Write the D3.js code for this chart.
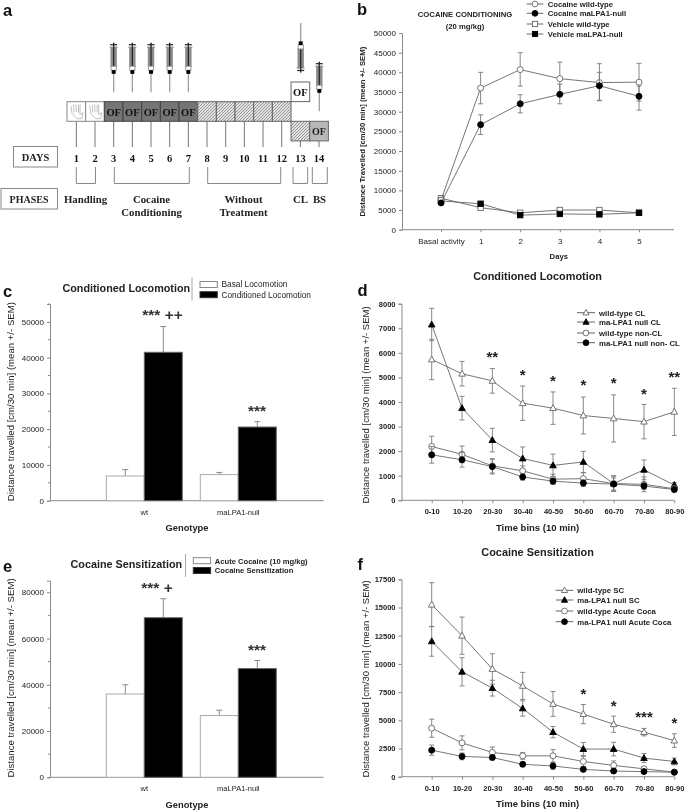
<!DOCTYPE html>
<html><head><meta charset="utf-8">
<script src="https://cdn.jsdelivr.net/npm/d3@7/dist/d3.min.js"></script>
<style>
html,body{margin:0;padding:0;background:#fff;}
svg{display:block;filter:blur(0.35px);}
text{font-family:"Liberation Sans",Arial,sans-serif;fill:#222;}
.serif{font-family:"Liberation Serif","Times New Roman",serif;font-weight:bold;}
</style></head><body>
<svg id="c" width="685" height="810" viewBox="0 0 685 810"></svg>
<script>
// ---------- data ----------
const dayLabels = ["1","2","3","4","5","6","7","8","9","10","11","12","13","14"];
const phaseLabels = [
  {lines:["Handling"], from:1, to:2},
  {lines:["Cocaine","Conditioning"], from:3, to:7},
  {lines:["Without","Treatment"], from:8, to:12},
  {lines:["CL"], from:13, to:13},
  {lines:["BS"], from:14, to:14}
];
const injectionDays = [3,4,5,6,7];

const bCats = ["Basal activity","1","2","3","4","5"];
const bTicks = d3.range(0,50001,5000);
const bCocWt   = [7500,36000,40700,38400,37400,37500];
const bCocWtHi = [7900,40000,45000,42600,42200,42300];
const bCocWtLo = [7100,32000,36500,34300,32800,32700];
const bCocNull   = [6800,26700,32000,34400,36600,33900];
const bCocNullHi = [7200,29200,34300,37000,40000,36500];
const bCocNullLo = [6400,24200,29700,32000,32900,30400];
const bVehWt   = [8000,5600,4300,5000,5000,4300];
const bVehNull = [7300,6600,3700,4000,3900,4300];

const barCats = ["wt","maLPA1-null"];
const cBasal = [6900,7300];
const cBasalErr = [1800,600];
const cCond = [41500,20600];
const cCondErr = [7200,1500];
const cTicks = [0,10000,20000,30000,40000,50000];

const eAcute = [36000,26700];
const eAcuteErr = [4000,2300];
const eSens = [69000,47000];
const eSensErr = [8200,3500];
const eTicks = [0,20000,40000,60000,80000];

const bins = ["0-10","10-20","20-30","30-40","40-50","50-60","60-70","70-80","80-90"];
const dWtCL = [5730,5150,4860,3950,3750,3450,3330,3200,3600];
const dWtCLErr = [820,500,500,700,660,750,960,700,960];
const dNullCL = [7150,3750,2450,1700,1420,1560,680,1240,620];
const dNullCLErr = [660,480,480,470,460,430,320,400,100];
const dWtNon = [2190,1870,1400,1200,860,880,680,650,470];
const dWtNonErr = [420,340,290,200,200,240,300,300,100];
const dNullNon = [1850,1650,1370,950,780,700,660,580,440];
const dNullNonErr = [340,300,300,130,130,140,250,140,100];
const dStars = ["","","**","*","*","*","*","*","**"];
const dStarVals = [0,0,5940,5210,4965,4800,4885,4460,5130];
const dTicks = d3.range(0,8001,1000);

const fWtSC = [15250,12500,9550,8050,6450,5550,4650,3950,3200];
const fWtSCErr = [1950,1650,1350,1200,1100,850,720,330,600];
const fNullSC = [12000,9300,7850,6050,3950,2450,2450,1650,1350];
const fNullSCErr = [1320,1250,700,680,500,580,600,400,300];
const fWtAc = [4300,3000,2150,1850,1850,1350,1000,700,400];
const fWtAcErr = [800,620,480,300,550,450,400,150,100];
const fNullAc = [2350,1800,1700,1100,950,650,500,450,400];
const fNullAcErr = [450,300,200,200,300,200,200,150,100];
const fStars = ["","","","","","*","*","***","*"];
const fStarVals = [0,0,0,0,0,7620,6560,5530,5000];
const fTicks = d3.range(0,17501,2500);

// ---------- helpers ----------
const svg = d3.select("#c");
const defs = svg.append("defs");
const hatch = defs.append("pattern").attr("id","hatch").attr("width",3).attr("height",3)
  .attr("patternUnits","userSpaceOnUse");
hatch.append("rect").attr("width",3).attr("height",3).attr("fill","#e2e2e2");
hatch.append("path").attr("d","M0,3L3,0M-1,1L1,-1M2,4L4,2").attr("stroke","#8f8f8f").attr("stroke-width",0.9);

const AX = "#8a8a8a", LINE="#7a7a7a";
function txt(g,x,y,s,size,opt={}){
  return g.append("text").attr("x",x).attr("y",y).text(s).attr("font-size",size)
    .attr("font-weight",opt.w||"normal").attr("text-anchor",opt.a||"start")
    .attr("class",opt.c||null).attr("transform",opt.r?`rotate(${opt.r} ${x} ${y})`:null)
    .style("fill",opt.f||null).style("letter-spacing",opt.ls||null);
}
function panelLetter(s,x,y){ txt(svg,x,y,s,16.5,{w:"bold",f:"#111"}); }

function marker(g,type,x,y,r){
  const fill = type.endsWith("F") ? "#000" : "#fff";
  const stroke = type.endsWith("F") ? "#000" : "#666";
  const k = type[0];
  if(k==="c") g.append("circle").attr("cx",x).attr("cy",y).attr("r",r).attr("fill",fill).attr("stroke",stroke).attr("stroke-width",0.9);
  if(k==="s") g.append("rect").attr("x",x-r).attr("y",y-r).attr("width",2*r).attr("height",2*r).attr("fill",fill).attr("stroke",stroke).attr("stroke-width",0.9);
  if(k==="t") g.append("path").attr("d",`M${x},${y-r*1.15}L${x+r*1.1},${y+r*0.8}L${x-r*1.1},${y+r*0.8}Z`).attr("fill",fill).attr("stroke",stroke).attr("stroke-width",0.9);
}

function yAxis(g,y,x0,ticks,size,weight,minorTicks){
  const ax = d3.axisLeft(y).tickValues(ticks).tickSize(3).tickPadding(3).tickFormat(d3.format("d"));
  const a = g.append("g").attr("transform",`translate(${x0},0)`).call(ax);
  a.selectAll("path,line").attr("stroke",AX);
  a.selectAll("text").attr("font-size",size).attr("font-weight",weight||"normal")
    .attr("font-family","Liberation Sans");
  if(minorTicks){
    g.selectAll(null).data(minorTicks).enter().append("line")
      .attr("x1",x0-2).attr("x2",x0).attr("y1",d=>y(d)).attr("y2",d=>y(d)).attr("stroke",AX);
  }
}

function lineSeries(g,x,y,vals,type,r,cats,hi,lo){
  const pts = vals.map((v,i)=>({c:cats[i],v,hi:hi?hi[i]:null,lo:lo?lo[i]:null}));
  pts.forEach(p=>{
    if(p.hi==null) return;
    const X=x(p.c);
    g.append("path").attr("d",`M${X-2.5},${y(p.hi)}H${X+2.5}M${X},${y(p.hi)}V${y(p.lo)}M${X-2.5},${y(p.lo)}H${X+2.5}`)
      .attr("fill","none").attr("stroke",LINE).attr("stroke-width",0.9);
  });
  g.append("path").datum(pts).attr("fill","none").attr("stroke","#666").attr("stroke-width",0.9)
    .attr("d",d3.line().x(d=>x(d.c)).y(d=>y(d.v)));
  pts.forEach(p=>marker(g,type,x(p.c),y(p.v),r));
}
function errs(vals,err,sign){ return vals.map((v,i)=>v+sign*err[i]); }

function legendLines(g,x0,x1,items,ys,size,gap){
  items.forEach((it,i)=>{
    g.append("line").attr("x1",x0).attr("x2",x1).attr("y1",ys[i]).attr("y2",ys[i]).attr("stroke","#666");
    marker(g,it.t,(x0+x1)/2,ys[i],it.r);
    txt(g,x1+gap,ys[i]+3,it.s,size,{w:"bold"});
  });
}

// ---------- panel a ----------
(function(){
  const g = svg.append("g");
  const n0=67, w=18.67, top=101.7, h=19.6;
  const cx = d=>n0+(d-0.5)*w;
  panelLetter("a",3,16);
  dayLabels.forEach((d,i)=>{
    const D=i+1, y1 = D>=13 ? top+2*h-0.2 : top+h;
    g.append("line").attr("x1",cx(D)).attr("x2",cx(D)).attr("y1",y1).attr("y2",147).attr("stroke","#777").attr("stroke-width",1);
    txt(g,cx(D),161.5,d,10.5,{a:"middle",c:"serif",f:"#111"});
  });
  dayLabels.slice(0,12).forEach((d,i)=>{
    const D=i+1,x=n0+i*w;
    const fill = D<=2?"#fff":D<=7?"#757575":"url(#hatch)";
    g.append("rect").attr("x",x).attr("y",top).attr("width",w).attr("height",h).attr("fill",fill).attr("stroke",D<=2?"#888":D<=7?"#444":"#666").attr("stroke-width",1);
    if(D<=2){
      g.append("path").attr("d",`M${x+4},${top+4}l1,8 l5,5 h5 l1,-6 l-3,2 l0,-10 M${x+6.5},${top+3}l.5,8 M${x+9},${top+2.5}l.3,8 M${x+11.5},${top+3}l0,8`)
        .attr("fill","none").attr("stroke","#bbb").attr("stroke-width",0.9);
    }
    if(D>=3&&D<=7) txt(g,x+w/2,top+14,"OF",10.5,{a:"middle",c:"serif",f:"#111"});
  });
  g.append("rect").attr("x",n0+12*w).attr("y",top+h).attr("width",w).attr("height",h).attr("fill","url(#hatch)").attr("stroke","#666");
  g.append("rect").attr("x",n0+13*w).attr("y",top+h).attr("width",w).attr("height",h).attr("fill","#b8b8b8").attr("stroke","#666");
  txt(g,n0+13.5*w,top+h+14,"OF",10,{a:"middle",c:"serif",f:"#222"});
  g.append("rect").attr("x",n0+12*w).attr("y",82).attr("width",w).attr("height",h).attr("fill","#fff").attr("stroke","#666");
  txt(g,n0+12.5*w,82+14,"OF",10.5,{a:"middle",c:"serif",f:"#111"});
  [["DAYS",13.5,146.5,44,20.5,10.5,35.5],["PHASES",1,188.5,56.5,20.5,10,29]].forEach(b=>{
    g.append("rect").attr("x",b[1]).attr("y",b[2]).attr("width",b[3]).attr("height",b[4]).attr("fill","#fff").attr("stroke","#888");
    txt(g,b[6],b[2]+14.5,b[0],b[5],{a:"middle",c:"serif",f:"#222"});
  });
  const br = [[76.3,95.5],[114.3,189.3],[207.7,280.7],[293,307.7],[312.3,327.3]];
  br.forEach(b=>g.append("path").attr("d",`M${b[0]},167V183.5H${b[1]}V167`).attr("fill","none").attr("stroke","#888"));
  const phX=[85.5,151.5,243.5,300.5,319.5];
  phaseLabels.forEach((p,i)=>p.lines.forEach((l,j)=>txt(g,phX[i],202.5+j*13,l,10.8,{a:"middle",c:"serif",f:"#222"})));
  function syringe(x,yTop,flip){
    const s=g.append("g").attr("transform",flip?`translate(${x},${yTop}) scale(1,-1)`:`translate(${x},${yTop})`);
    s.append("line").attr("y1",0).attr("y2",49.5).attr("stroke","#a0a0a0").attr("stroke-width",1.3);
    s.append("line").attr("x1",-3.5).attr("x2",3.5).attr("y1",2).attr("y2",2).attr("stroke","#222").attr("stroke-width",1.2);
    s.append("line").attr("y1",0).attr("y2",5).attr("stroke","#222").attr("stroke-width",1.2);
    s.append("line").attr("x1",-4).attr("x2",4).attr("y1",4.5).attr("y2",4.5).attr("stroke","#777").attr("stroke-width",1);
    s.append("rect").attr("x",-3.2).attr("y",4.5).attr("width",6.4).attr("height",20).attr("fill","#8c8c8c");
    s.append("line").attr("y1",4).attr("y2",24).attr("stroke","#222").attr("stroke-width",1.2);
    s.append("rect").attr("x",-2.6).attr("y",23.5).attr("width",5.2).attr("height",4).attr("fill","#fff").attr("stroke","#888").attr("stroke-width",.8);
    s.append("rect").attr("x",-2).attr("y",27.5).attr("width",4).attr("height",3.6).attr("fill","#000");
  }
  injectionDays.forEach(d=>syringe(cx(d),42.7,false));
  syringe(300.7,72.5,true);
  syringe(319.3,61.7,false);
})();

// ---------- panel b ----------
(function(){
  const g=svg.append("g");
  panelLetter("b",357,15);
  const y=d3.scaleLinear().domain([0,50000]).range([229.7,33]);
  const x=d3.scalePoint().domain(bCats).range([441,639]);
  const a=g.append("g").attr("transform","translate(0,229.7)")
    .call(d3.axisBottom(x).tickSize(2.5).tickPadding(6));
  a.selectAll("line").attr("stroke",AX);
  a.select(".domain").remove();
  a.selectAll("text").attr("font-size",8).attr("font-family","Liberation Sans").attr("fill","#222");
  g.append("line").attr("x1",402).attr("x2",674).attr("y1",229.7).attr("y2",229.7).attr("stroke",AX);
  yAxis(g,y,402,bTicks,8);
  txt(g,365,131.7,"Distance Travelled [cm/30 min] (mean +/- SEM)",7.7,{w:"bold",r:-90,a:"middle"});
  txt(g,558.8,259,"Days",7.7,{w:"bold",a:"middle"});
  txt(g,465,17.3,"COCAINE CONDITIONING",7.7,{w:"bold",a:"middle"});
  txt(g,465,28.5,"(20 mg/kg)",7.7,{w:"bold",a:"middle"});
  lineSeries(g,x,y,bVehWt,"sO",2.7,bCats);
  lineSeries(g,x,y,bVehNull,"sF",2.7,bCats);
  lineSeries(g,x,y,bCocWt,"cO",3,bCats,bCocWtHi,bCocWtLo);
  lineSeries(g,x,y,bCocNull,"cF",3,bCats,bCocNullHi,bCocNullLo);
  legendLines(g,526.7,543.3,[{t:"cO",r:2.9,s:"Cocaine wild-type"},{t:"cF",r:2.9,s:"Cocaine maLPA1-null"},{t:"sO",r:2.6,s:"Vehicle wild-type"},{t:"sF",r:2.6,s:"Vehicle maLPA1-null"}],[4,13.3,24,34],7.7,4.4);
})();

// ---------- bars ----------
function barPanel(o){
  const g=svg.append("g");
  panelLetter(o.letter,3,o.letterY);
  const y=d3.scaleLinear().domain([0,o.max]).range([o.y0,o.yTop]);
  const bw=38;
  const centers=[144.3,238.3];
  yAxis(g,y,50,o.ticks,8,"normal",o.minor);
  g.append("line").attr("x1",50).attr("x2",323.5).attr("y1",o.y0).attr("y2",o.y0).attr("stroke",AX);
  barCats.forEach((c,i)=>{
    const cx=centers[i];
    [[cx-bw/2,o.a[i],o.aErr[i]],[cx+bw/2,o.b[i],o.bErr[i]]].forEach(d=>{
      g.append("path").attr("d",`M${d[0]},${y(d[1])}V${y(d[1]+d[2])}M${d[0]-3},${y(d[1]+d[2])}H${d[0]+3}`).attr("stroke",AX).attr("fill","none");
    });
    g.append("rect").attr("x",cx-bw).attr("y",y(o.a[i])).attr("width",bw).attr("height",o.y0-y(o.a[i])).attr("fill","#fff").attr("stroke","#aaa");
    g.append("rect").attr("x",cx).attr("y",y(o.b[i])).attr("width",bw).attr("height",o.y0-y(o.b[i])).attr("fill","#000").attr("stroke","#666");
    txt(g,cx,o.y0+13.8,c,7.5,{a:"middle"});
    txt(g,o.starX[i],o.starY[i],o.star[i],15.5,{a:"middle",w:"bold",f:"#333"});
  });
  txt(g,187,o.y0+30.5,"Genotype",9.3,{a:"middle",w:"bold"});
  txt(g,14,o.yLabelY,"Distance travelled [cm/30 min] (mean +/- SEM)",9.6,{r:-90,a:"middle"});
  txt(g,o.titleX,o.titleY,o.title,10.8,{w:"bold",a:"middle"});
  g.append("line").attr("x1",o.sepX).attr("x2",o.sepX).attr("y1",o.titleY-14).attr("y2",o.titleY+9).attr("stroke","#aaa");
  o.leg.forEach((s,i)=>{
    g.append("rect").attr("x",o.legX).attr("y",o.legY[i]-3).attr("width",17.3).attr("height",6).attr("fill",i?"#000":"#fff").attr("stroke",i?"#333":"#888");
    txt(g,o.legX+21.5,o.legY[i]+2.8,s,o.legS,{w:o.legW});
  });
}
barPanel({letter:"c",letterY:297,max:55000,y0:500.7,yTop:304,ticks:cTicks,
  minor:[5000,15000,25000,35000,45000,55000],a:cBasal,aErr:cBasalErr,b:cCond,bErr:cCondErr,
  star:["*** ++","***"],starX:[162.5,257],starY:[320,415.5],
  yLabelY:401.7,title:"Conditioned Locomotion",titleX:126.3,titleY:291.7,sepX:192,
  leg:["Basal Locomotion","Conditioned Locomotion"],legX:200,legY:[284.5,294.7],legS:8.3,legW:"normal"});
barPanel({letter:"e",letterY:572,max:85000,y0:777.3,yTop:580.7,ticks:eTicks,
  minor:[10000,30000,50000,70000],a:eAcute,aErr:eAcuteErr,b:eSens,bErr:eSensErr,
  star:["*** +","***"],starX:[157,257],starY:[592.5,654.5],
  yLabelY:678,title:"Cocaine Sensitization",titleX:126.3,titleY:568,sepX:185.5,
  leg:["Acute Cocaine (10 mg/kg)","Cocaine Sensitization"],legX:193.3,legY:[560.7,570.5],legS:7.6,legW:"bold"});

// ---------- time bins ----------
function binPanel(o){
  const g=svg.append("g");
  panelLetter(o.letter,357.5,o.letterY);
  const y=d3.scaleLinear().domain([0,o.max]).range([o.y0,o.yTop]);
  const x=d3.scalePoint().domain(bins).range([431.7,674.3]);
  const a=g.append("g").attr("transform",`translate(0,${o.y0})`)
    .call(d3.axisBottom(x).tickSize(3).tickPadding(5.5));
  a.selectAll("line").attr("stroke",AX);
  a.select(".domain").remove();
  a.selectAll("text").attr("font-size",7.5).attr("font-weight","bold").attr("font-family","Liberation Sans").attr("fill","#222");
  g.append("line").attr("x1",401.5).attr("x2",674.3).attr("y1",o.y0).attr("y2",o.y0).attr("stroke",AX);
  yAxis(g,y,401.5,o.ticks,7.5,"bold");
  txt(g,537.6,o.y0+30.5,"Time bins (10 min)",9.5,{a:"middle",w:"bold"});
  txt(g,369,o.yLabelY,"Distance travelled [cm/30 min] (mean +/- SEM)",9.5,{r:-90,a:"middle"});
  txt(g,537.6,o.titleY,o.title,10.9,{w:"bold",a:"middle"});
  o.series.forEach(s=>lineSeries(g,x,y,s.v,s.t,3,bins,errs(s.v,s.e,1),errs(s.v,s.e,-1)));
  bins.forEach((b,i)=>{ if(o.stars[i]) txt(g,x(b),y(o.starVals[i])+8,o.stars[i],15,{a:"middle",w:"bold",f:"#222"}); });
  legendLines(g,o.legX,o.legX+o.legW,o.leg,o.legY,7.8,4);
}
binPanel({letter:"d",letterY:296,max:8000,y0:500.3,yTop:303.7,ticks:dTicks,yLabelY:405,title:"Conditioned Locomotion",titleY:279.5,
  series:[{v:dWtCL,e:dWtCLErr,t:"tO"},{v:dNullCL,e:dNullCLErr,t:"tF"},{v:dWtNon,e:dWtNonErr,t:"cO"},{v:dNullNon,e:dNullNonErr,t:"cF"}],
  stars:dStars,starVals:dStarVals,
  leg:[{t:"tO",r:2.8,s:"wild-type CL"},{t:"tF",r:2.8,s:"ma-LPA1 null CL"},{t:"cO",r:2.9,s:"wild-type non-CL"},{t:"cF",r:2.9,s:"ma-LPA1 null non- CL"}],
  legX:577,legW:18,legY:[312.7,322,333,342.7]});
binPanel({letter:"f",letterY:570,max:17500,y0:776.7,yTop:579.3,ticks:fTicks,yLabelY:679,title:"Cocaine Sensitization",titleY:556,
  series:[{v:fWtSC,e:fWtSCErr,t:"tO"},{v:fNullSC,e:fNullSCErr,t:"tF"},{v:fWtAc,e:fWtAcErr,t:"cO"},{v:fNullAc,e:fNullAcErr,t:"cF"}],
  stars:fStars,starVals:fStarVals,
  leg:[{t:"tO",r:2.8,s:"wild-type SC"},{t:"tF",r:2.8,s:"ma-LPA1 null SC"},{t:"cO",r:2.9,s:"wild-type Acute Coca"},{t:"cF",r:2.9,s:"ma-LPA1 null Acute Coca"}],
  legX:555.7,legW:17.6,legY:[590.3,600,611,621.7]});
</script>
</body></html>
